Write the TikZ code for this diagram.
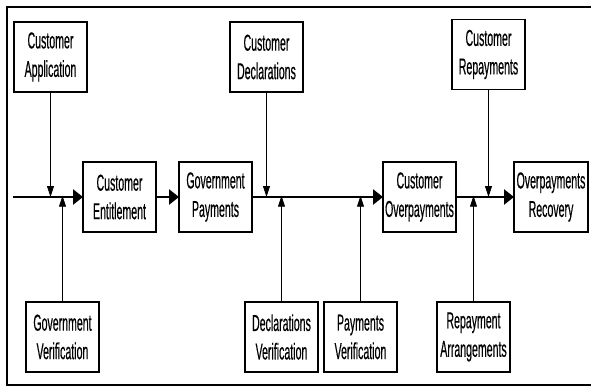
\documentclass[tikz,border=0pt]{standalone}
\usepackage{fontspec}
\setmainfont[FakeStretch=0.46,FakeBold=0.4]{Liberation Sans}
\usetikzlibrary{arrows.meta}
\begin{document}
\begin{tikzpicture}[x=1pt,y=-1pt,
  box/.style={draw, line width=1.5pt, minimum width=73pt, minimum height=70pt, inner sep=0pt, outer sep=0pt, align=center, font=\fontsize{23}{28.5}\selectfont},
  mainarrow/.style={line width=2.5pt, -{Triangle[length=10pt,width=15pt]}},
  sidearrow/.style={line width=0.9pt, -{Triangle[length=11pt,width=7pt]}}]
\useasboundingbox (0,0) rectangle (592,388);
\draw[line width=2pt] (591,7) -- (7,7) -- (7,385) -- (591,385);
% top inputs
\node[box] (CA) at (50.5,57) {Customer\\Application};
\node[box] (CD) at (266.5,57) {Customer\\Declarations};
\node[box] (CR) at (488.5,54.5) {Customer\\Repayments};
% main chain
\node[box] (CE) at (119.5,197) {Customer\\Entitlement};
\node[box] (GP) at (215.5,197) {Government\\Payments};
\node[box] (CO) at (419.5,197) {Customer\\Overpayments};
\node[box, minimum width=74pt] (OR) at (551,197) {Overpayments\\Recovery};
% bottom inputs
\node[box] (GV) at (62.5,337) {Government\\Verification};
\node[box] (DV) at (281.5,337) {Declarations\\Verification};
\node[box] (PV) at (360.5,337) {Payments\\Verification};
\node[box] (RA) at (473.5,337) {Repayment\\Arrangements};
\coordinate (start) at (13,197);
% main line
\draw[mainarrow] (start) -- (CE.west);
\draw[mainarrow] (CE.east) -- (GP.west);
\draw[mainarrow] (GP.east) -- (CO.west);
\draw[mainarrow] (CO.east) -- (OR.west);
% vertical arrows
\draw[sidearrow] (CA.south) -- (CA.south |- start);
\draw[sidearrow] (CD.south) -- (CD.south |- start);
\draw[sidearrow] (CR.south) -- (CR.south |- start);
\draw[sidearrow] (GV.north) -- ([yshift=1.3pt]GV.north |- start);
\draw[sidearrow] (DV.north) -- ([yshift=1.3pt]DV.north |- start);
\draw[sidearrow] (PV.north) -- ([yshift=1.3pt]PV.north |- start);
\draw[sidearrow] (RA.north) -- ([yshift=1.3pt]RA.north |- start);
\end{tikzpicture}
\end{document}
